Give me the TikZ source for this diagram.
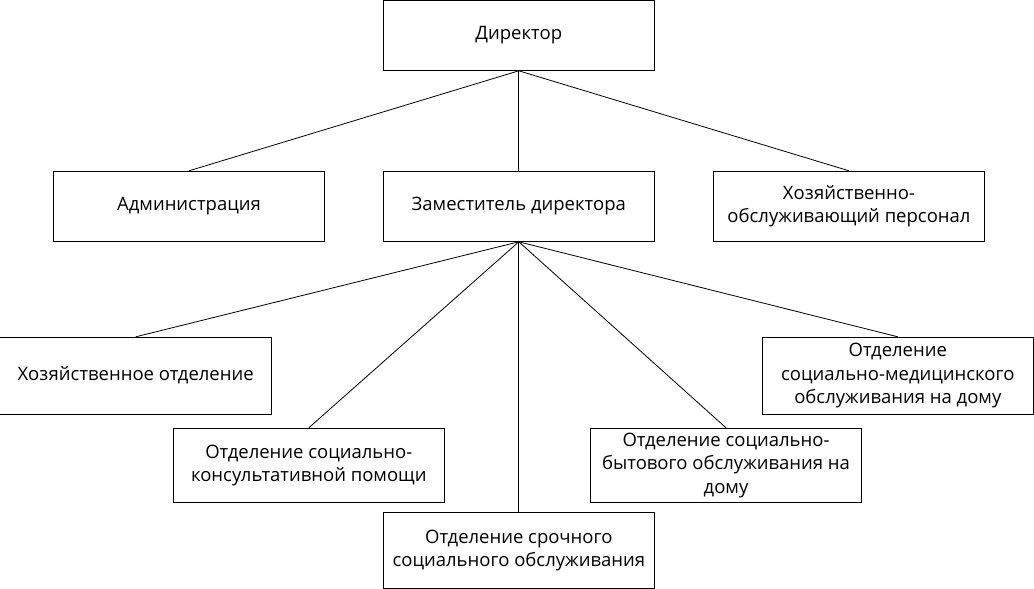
\documentclass[tikz,border=0pt]{standalone}
\usepackage{fontspec}
\setmainfont{Open Sans}
\begin{document}
\begin{tikzpicture}[x=1pt,y=-1pt,
  box/.style={draw=black,line width=1pt,rectangle,inner sep=0pt,minimum width=271.3pt,align=center,font=\fontsize{18.5}{23.3}\selectfont},
  conn/.style={draw=black,line width=0.8pt}]
\useasboundingbox (0,0) rectangle (1034,589);
\node[box,minimum height=70pt] (dir) at (518.8,35.3) {Директор};
\node[box,minimum height=70pt] (adm) at (189,206.3) {Администрация};
\node[box,minimum height=70pt] (zam) at (518.8,206.3) {Заместитель директора};
\node[box,minimum height=70pt] (hop) at (849,206.3) {Хозяйственно-\\обслуживающий персонал};
\node[box,minimum height=76.7pt] (hoz) at (135.6,375.7) {Хозяйственное отделение};
\node[box,minimum height=74pt] (kons) at (308.8,465.3) {Отделение социально-\\консультативной помощи};
\node[box,minimum height=76pt] (sroch) at (518.8,550.3) {Отделение срочного\\социального обслуживания};
\node[box,minimum height=74pt] (byt) at (726,465.3) {Отделение социально-\\бытового обслуживания на\\дому};
\node[box,minimum height=77pt] (med) at (897.8,375.8) {Отделение\\социально-медицинского\\обслуживания на дому};
\draw[conn] (dir.south) -- (adm.north);
\draw[conn] (dir.south) -- (zam.north);
\draw[conn] (dir.south) -- (hop.north);
\draw[conn] (zam.south) -- (hoz.north);
\draw[conn] (zam.south) -- (kons.north);
\draw[conn] (zam.south) -- (sroch.north);
\draw[conn] (zam.south) -- (byt.north);
\draw[conn] (zam.south) -- (med.north);
\end{tikzpicture}
\end{document}
